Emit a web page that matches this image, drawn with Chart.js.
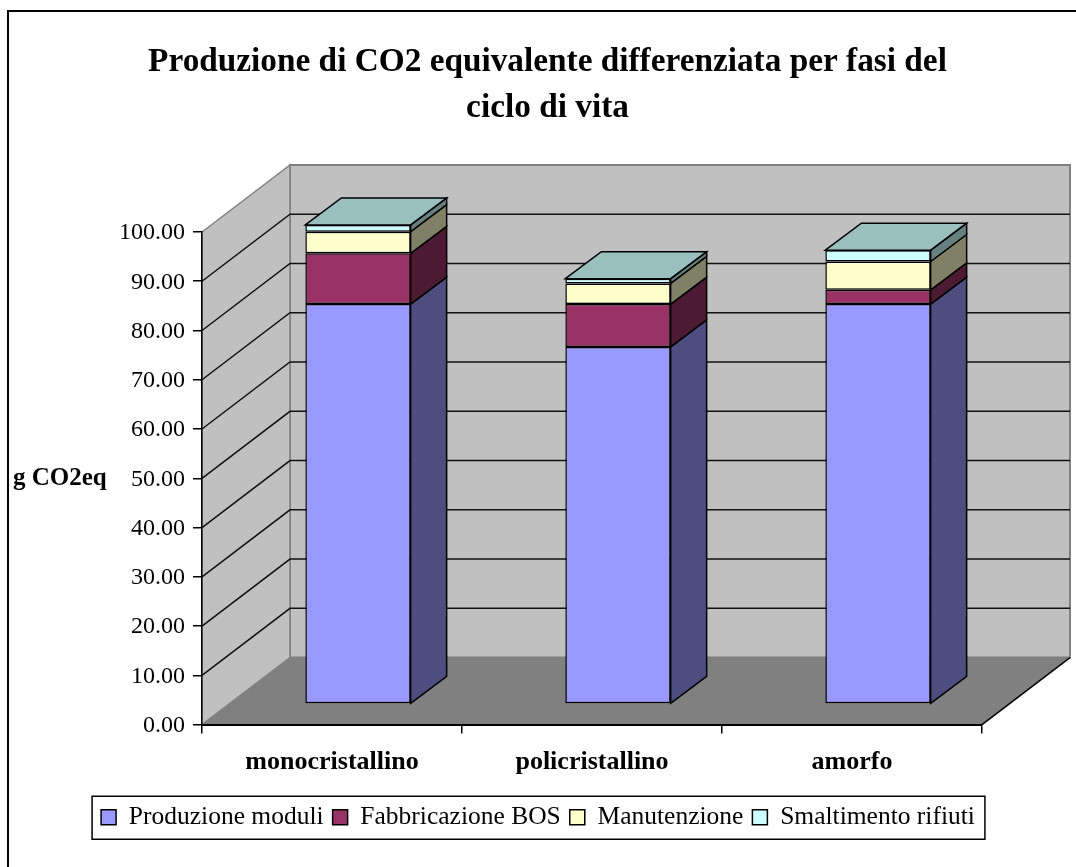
<!DOCTYPE html>
<html lang="it">
<head>
<meta charset="UTF-8">
<title>Produzione di CO2 equivalente</title>
<script src="https://cdn.jsdelivr.net/npm/chart.js"></script>
<style>
  html, body { margin: 0; padding: 0; background: #fff; }
  canvas { display: block; }
</style>
</head>
<body>
<canvas id="chart" width="1076" height="867"></canvas>
<script>
// values
const categories = ['monocristallino', 'policristallino', 'amorfo'];
const produzioneModuli = [81.2, 72.5, 81.2];
const fabbricazioneBOS = [10.3, 8.7, 2.9];
const manutenzione = [4.4, 4.2, 5.75];
const smaltimentoRifiuti = [1.36, 0.95, 2.3];
const seriesNames = ['Produzione moduli', 'Fabbricazione BOS', 'Manutenzione', 'Smaltimento rifiuti'];
const titleLines = ['Produzione di CO2 equivalente differenziata per fasi del', 'ciclo di vita'];
const yAxisLabel = 'g CO2eq';

const frontColors = ['#9999FF', '#993366', '#FFFFCC', '#CCFFFF'];
const sideColors = ['#4D4D80', '#4D1A33', '#808066', '#668080'];
const topColor = '#99BFBF';

// 3d look: depth of the box, depth of a bar, how far bars sit from the front edge
const wallDepth = { x: 88, y: -67 };
const barDepth = { x: 36, y: -27 };
const barShift = { x: 26, y: -20.5 };
const FONT = '"Liberation Serif", serif';

function poly(ctx, pts, fill, stroke, lw) {
  ctx.beginPath();
  pts.forEach((p, i) => i ? ctx.lineTo(p[0], p[1]) : ctx.moveTo(p[0], p[1]));
  ctx.closePath();
  if (fill) { ctx.fillStyle = fill; ctx.fill(); }
  if (stroke) { ctx.strokeStyle = stroke; ctx.lineWidth = lw; ctx.stroke(); }
}

const box3d = {
  id: 'box3d',
  beforeDraw(chart) {
    const { ctx, chartArea: a, scales } = chart;
    const dx = wallDepth.x, dy = wallDepth.y;
    ctx.save();

    // outer frame, open on the right and at the bottom like the original crop
    ctx.strokeStyle = '#000';
    ctx.lineWidth = 2;
    ctx.beginPath();
    ctx.moveTo(8, 867);
    ctx.lineTo(8, 11);
    ctx.lineTo(1076, 11);
    ctx.stroke();

    // floor, back wall, left wall
    poly(ctx, [[a.left, a.bottom], [a.right, a.bottom], [a.right + dx, a.bottom + dy], [a.left + dx, a.bottom + dy]], '#808080');
    poly(ctx, [[a.left + dx, a.top + dy], [a.right + dx, a.top + dy], [a.right + dx, a.bottom + dy], [a.left + dx, a.bottom + dy]], '#C0C0C0', '#808080', 2);
    poly(ctx, [[a.left, a.top], [a.left + dx, a.top + dy], [a.left + dx, a.bottom + dy], [a.left, a.bottom]], '#C0C0C0', '#808080', 1.5);

    // grid lines around the two walls
    ctx.strokeStyle = '#111';
    ctx.lineWidth = 1.5;
    scales.y.ticks.forEach(t => {
      if (t.value === scales.y.min || t.value === scales.y.max) return;
      const py = scales.y.getPixelForValue(t.value);
      ctx.beginPath();
      ctx.moveTo(a.left, py);
      ctx.lineTo(a.left + dx, py + dy);
      ctx.lineTo(a.right + dx, py + dy);
      ctx.stroke();
    });

    // right edge of the floor
    ctx.strokeStyle = '#000';
    ctx.lineWidth = 1.5;
    ctx.beginPath();
    ctx.moveTo(a.right, a.bottom);
    ctx.lineTo(a.right + dx, a.bottom + dy);
    ctx.stroke();
    ctx.restore();
  },
  beforeDatasetsDraw(chart) {
    const { ctx } = chart;
    ctx.save();
    ctx.translate(barShift.x, barShift.y);
    const dx = barDepth.x, dy = barDepth.y;
    const last = chart.data.datasets.length - 1;
    chart.data.datasets.forEach((ds, i) => {
      chart.getDatasetMeta(i).data.forEach(el => {
        const r = el.x + el.width / 2;
        const l = el.x - el.width / 2;
        poly(ctx, [[r, el.base], [r + dx, el.base + dy], [r + dx, el.y + dy], [r, el.y]], sideColors[i], '#000', 1.5);
        if (i === last) {
          poly(ctx, [[l, el.y], [l + dx, el.y + dy], [r + dx, el.y + dy], [r, el.y]], topColor, '#000', 1.5);
        }
      });
    });
  },
  afterDatasetsDraw(chart) {
    chart.ctx.restore();
  },
  afterLayout(chart) {
    // title sits a bit right of the page centre
    chart.titleBlock.left += 19;
  },
  afterDraw(chart) {
    const { ctx, legend } = chart;
    ctx.save();
    // axis title is horizontal here, chart.js only does rotated ones
    ctx.fillStyle = '#000';
    ctx.font = 'bold 25px ' + FONT;
    ctx.textBaseline = 'middle';
    ctx.fillText(yAxisLabel, 13, chart.scales.y.getPixelForValue(50));

    // box around the legend
    const hits = legend.legendHitBoxes;
    const lastHit = hits[hits.length - 1];
    const left = hits[0].left - 9;
    const midY = legend.top + legend.height / 2;
    ctx.strokeStyle = '#000';
    ctx.lineWidth = 1.5;
    ctx.strokeRect(left, midY - 21.5, lastHit.left + lastHit.width + 10 - left, 43);
    ctx.restore();
  }
};

const seriesValues = [produzioneModuli, fabbricazioneBOS, manutenzione, smaltimentoRifiuti];

new Chart(document.getElementById('chart'), {
  type: 'bar',
  data: {
    labels: categories,
    datasets: seriesNames.map((name, i) => ({
      label: name,
      data: seriesValues[i],
      backgroundColor: frontColors[i],
      borderColor: '#000',
      borderWidth: 1.5,
      borderSkipped: false,
      clip: false,
      barPercentage: 0.405,
      categoryPercentage: 1
    }))
  },
  options: {
    responsive: false,
    animation: false,
    layout: { padding: { left: 0, right: 0, top: 0, bottom: 27 } },
    plugins: {
      tooltip: { enabled: false },
      title: {
        display: true,
        text: titleLines,
        color: '#000',
        font: { family: FONT, size: 33.3, weight: 'bold', lineHeight: 1.39 },
        padding: { top: 39, bottom: 100.4 }
      },
      legend: {
        position: 'bottom',
        labels: {
          color: '#000',
          font: { family: FONT, size: 25.5 },
          boxWidth: 15,
          boxHeight: 15,
          padding: 9
        }
      }
    },
    scales: {
      x: {
        stacked: true,
        afterFit(s) { s.height = 70.9; },
        grid: { drawOnChartArea: false, drawTicks: true, tickLength: 9, color: '#000', lineWidth: 1.5 },
        border: { display: true, color: '#000', width: 2 },
        ticks: { color: '#000', padding: 13.5, maxRotation: 0, font: { family: FONT, size: 26, weight: 'bold' } }
      },
      y: {
        stacked: true,
        min: 0,
        max: 100,
        afterFit(s) { s.width = 202; },
        grid: { drawOnChartArea: false, drawTicks: true, tickLength: 9, color: '#000', lineWidth: 1.5 },
        border: { display: true, color: '#000', width: 1.5 },
        ticks: {
          stepSize: 10,
          color: '#000',
          padding: 8,
          labelOffset: 1,
          font: { family: FONT, size: 24 },
          callback: v => v.toFixed(2)
        }
      },
      // empty axis, only keeps the room on the right for the 3d floor
      y1: {
        position: 'right',
        afterFit(s) { s.width = 94; },
        grid: { display: false },
        border: { display: false },
        ticks: { display: false }
      }
    }
  },
  plugins: [box3d]
});
</script>
</body>
</html>
